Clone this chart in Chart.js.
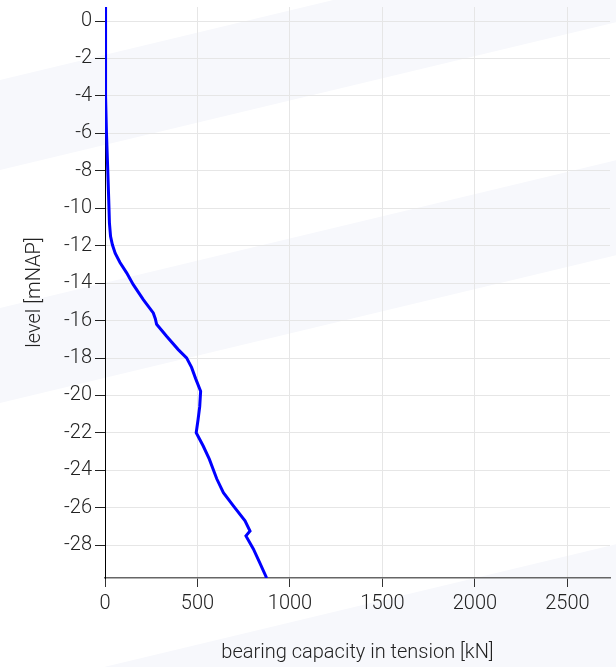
<!DOCTYPE html>
<html>
<head>
<meta charset="utf-8">
<script src="https://cdn.jsdelivr.net/npm/chart.js@4"></script>
<style>
  html, body { margin: 0; padding: 0; background: #fff; }
  #wrap { width: 616px; height: 667px; }
</style>
</head>
<body>
<div id="wrap"><canvas id="chart"></canvas></div>
<script>
// bearing capacity in tension vs level
const capacity = [0, 2, 4, 8, 15, 20, 24, 30, 40, 55, 81, 117, 153, 207, 261, 272, 279, 333, 396, 441, 468, 490, 517, 512, 503, 493, 531, 564, 604, 640, 694, 757, 784, 762, 802, 835, 874];
const levels = [0.75, -2, -4, -6, -8, -9.5, -10.8, -11.5, -11.95, -12.4, -12.9, -13.45, -14.08, -14.88, -15.59, -15.9, -16.2, -16.84, -17.55, -17.99, -18.5, -19.1, -19.77, -20.6, -21.3, -21.99, -22.7, -23.4, -24.45, -25.19, -25.9, -26.7, -27.24, -27.5, -28.2, -28.9, -29.75];

const xTicks = [0, 500, 1000, 1500, 2000, 2500];
const yTicks = [0, -2, -4, -6, -8, -10, -12, -14, -16, -18, -20, -22, -24, -26, -28];

const xTitle = 'bearing capacity in tension [kN]';
const yTitle = 'level [mNAP]';

const points = capacity.map((v, i) => ({ x: v, y: levels[i] }));

// light diagonal stripes in the page background
const stripes = {
    id: 'stripes',
    beforeDraw(chart) {
        const ctx = chart.ctx;
        const w = chart.width;
        ctx.save();
        ctx.fillStyle = '#fff';
        ctx.fillRect(0, 0, w, chart.height);
        ctx.fillStyle = '#f7f8fc';
        const bands = [[80, 170], [308, 403], [692, 830]];
        bands.forEach(b => {
            ctx.beginPath();
            ctx.moveTo(0, b[0]);
            ctx.lineTo(w, b[0] - 0.24 * w);
            ctx.lineTo(w, b[1] - 0.24 * w);
            ctx.lineTo(0, b[1]);
            ctx.closePath();
            ctx.fill();
        });
        ctx.restore();
    }
};

Chart.defaults.font.family = 'Roboto';
Chart.defaults.font.weight = 300;
Chart.defaults.font.size = 20;
Chart.defaults.color = '#222';

new Chart(document.getElementById('chart'), {
    type: 'scatter',
    data: {
        datasets: [{
            data: points,
            showLine: true,
            borderColor: '#0000ff',
            borderWidth: 3,
            pointRadius: 0,
            pointHoverRadius: 0,
            tension: 0
        }]
    },
    options: {
        responsive: true,
        maintainAspectRatio: false,
        animation: false,
        layout: { padding: { top: 7, right: 6, left: 0, bottom: 0 } },
        plugins: {
            legend: { display: false },
            tooltip: { enabled: false }
        },
        scales: {
            x: {
                type: 'linear',
                min: 0,
                max: 2730,
                afterBuildTicks(s) { s.ticks = xTicks.map(v => ({ value: v })); },
                ticks: { padding: 5, maxRotation: 0, autoSkip: false, callback: v => String(v) },
                grid: { color: '#e6e6e6', tickColor: '#333', tickLength: 9 },
                border: { color: '#666', width: 1.5 },
                title: { display: true, text: xTitle, padding: { top: 0, bottom: 2 } },
                afterFit(s) {
                    s.height = 89;
                    s.paddingLeft = 0;
                    s.paddingRight = 0;
                }
            },
            y: {
                type: 'linear',
                min: -29.75,
                max: 0.75,
                afterBuildTicks(s) { s.ticks = yTicks.map(v => ({ value: v })); },
                ticks: { padding: 3, autoSkip: false, callback: v => String(v) },
                grid: { color: '#e6e6e6', tickColor: '#222', tickLength: 10 },
                border: { color: '#000', width: 1 },
                title: { display: true, text: yTitle, padding: { top: 23, bottom: 0 } },
                afterFit(s) {
                    s.width = 105;
                    s.paddingTop = 0;
                    s.paddingBottom = 0;
                }
            }
        }
    },
    plugins: [stripes]
});
</script>
</body>
</html>
